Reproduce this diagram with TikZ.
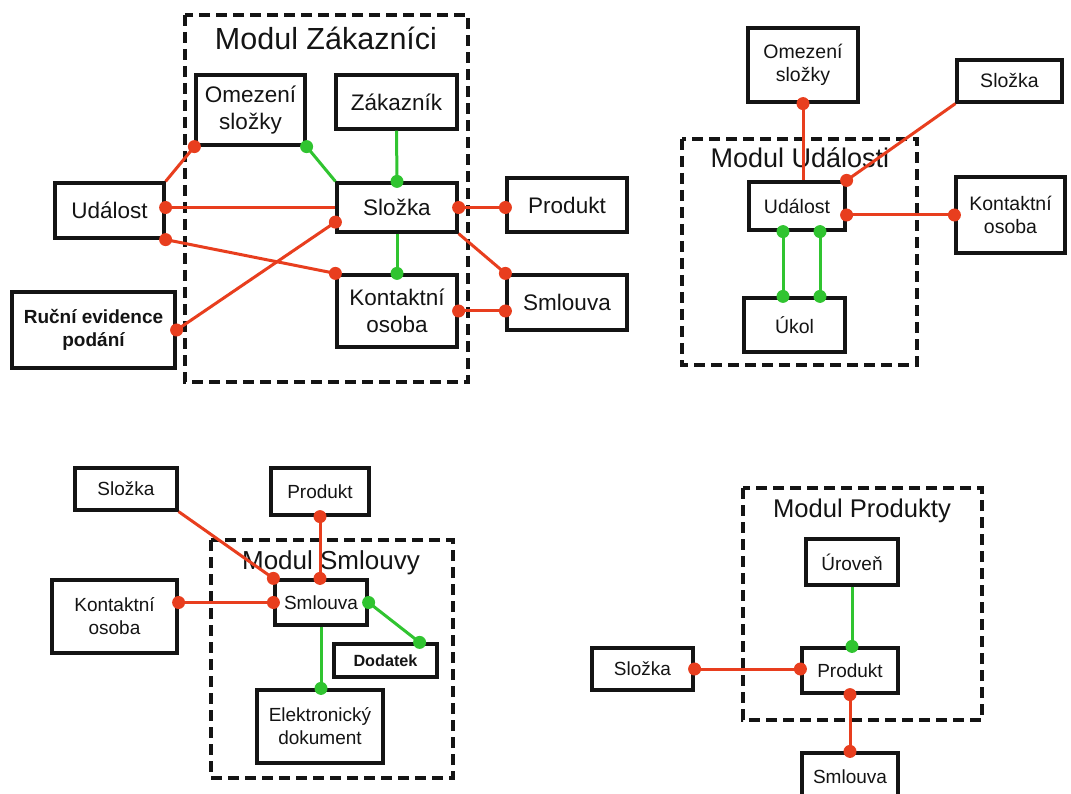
\documentclass[tikz,border=0pt]{standalone}
\usepackage{fontspec}
\setmainfont{Liberation Sans}
\usetikzlibrary{calc}
\definecolor{relred}{RGB}{232,62,30}
\definecolor{compgreen}{RGB}{48,196,48}
\definecolor{inkc}{RGB}{20,20,20}
\newcommand\reldot[1]{\fill[relred] (#1) circle (6.5pt);}
\newcommand\compdot[1]{\fill[compgreen] (#1) circle (6.5pt);}
\begin{document}
\begin{tikzpicture}[x=1pt,y=-1pt,
  box/.style={draw=inkc, line width=3.2pt, fill=white, inner sep=0pt, align=center, text=inkc},
  fA/.style={font=\fontsize{22.5}{27}\selectfont},
  fB/.style={font=\fontsize{19.5}{23.5}\selectfont},
  fC/.style={font=\fontsize{19}{23}\selectfont},
  modul/.style={draw=inkc, line width=3.2pt, dash pattern=on 11pt off 6pt},
  title/.style={anchor=base, text=inkc},
  rel/.style={draw=relred, line width=3pt},
  comp/.style={draw=compgreen, line width=3pt}]
\fill[white] (0,0) rectangle (1071,794);
\useasboundingbox (0,0) rectangle (1071,794);

% ---------- Modul Zakaznici ----------
\draw[modul] (185,15) rectangle (468,382);
\node[title, font=\fontsize{30.5}{36}\selectfont] (tZ) at (326,50) {Modul Zákazníci};
\node[box, fA, minimum width=109pt, minimum height=70pt] (omz) at (250.5,110) {Omezení\\složky};
\node[box, fA, minimum width=121pt, minimum height=54pt] (zak) at (396.5,102) {Zákazník};
\node[box, fA, minimum width=120pt, minimum height=49pt] (slz) at (397,207.5) {Složka};
\node[box, fA, minimum width=120pt, minimum height=72pt] (kon) at (397,311) {Kontaktní\\osoba};
\node[box, fA, minimum width=109pt, minimum height=55pt] (udl) at (109.5,210.5) {Událost};
\node[box, font=\bfseries\fontsize{19}{23}\selectfont, minimum width=163pt, minimum height=76pt] (rue) at (93.5,330) {Ruční evidence\\podání};
\node[box, fA, minimum width=120pt, minimum height=54pt] (prd) at (567,205) {Produkt};
\node[box, fA, minimum width=120pt, minimum height=55pt] (sml) at (567,302.5) {Smlouva};

\coordinate (slzR) at ($(slz.south west)!0.22!(slz.north west)$);
\draw[rel] (udl.north east) -- (omz.south west);
\draw[comp] (omz.south east) -- (slz.north west);
\draw[comp] (zak.south) -- (slz.north);
\draw[rel] (udl.east |- slz.west) -- (slz.west);
\draw[rel] (udl.south east) -- (kon.north west);
\draw[rel] (rue.east) -- (slzR);
\draw[comp] (slz.south) -- (kon.north);
\draw[rel] (slz.east) -- (prd.west |- slz.east);
\draw[rel] (slz.south east) -- (sml.north west);
\draw[rel] (kon.east) -- (sml.west |- kon.east);
\reldot{omz.south west}
\compdot{omz.south east}
\compdot{slz.north}
\reldot{udl.east |- slz.west}
\reldot{udl.south east}
\reldot{kon.north west}
\reldot{rue.east}
\reldot{slzR}
\compdot{kon.north}
\reldot{slz.east}
\reldot{prd.west |- slz.east}
\reldot{sml.north west}
\reldot{kon.east}
\reldot{sml.west |- kon.east}

% ---------- Modul Udalosti ----------
\draw[modul] (682,139) rectangle (917,365);
\node[title, font=\fontsize{27}{32}\selectfont] (tU) at (800,168) {Modul Události};
\node[box, fB, minimum width=110pt, minimum height=74pt] (omz2) at (803,65) {Omezení\\složky};
\node[box, fB, minimum width=105pt, minimum height=42pt] (slz2) at (1009.5,81) {Složka};
\node[box, fB, minimum width=96pt, minimum height=48pt] (udl2) at (797,206) {Událost};
\node[box, fB, minimum width=109pt, minimum height=76pt] (kon2) at (1010.5,215) {Kontaktní\\osoba};
\node[box, fB, minimum width=101pt, minimum height=54pt] (ukl) at (794.5,325) {Úkol};

\coordinate (uA) at ($(udl2.south)+(-14,0)$);
\coordinate (uB) at ($(udl2.south)+(23,0)$);
\draw[rel] (omz2.south) -- (omz2.south |- udl2.north);
\draw[rel] (slz2.south west) -- (udl2.north east);
\draw[rel] (udl2.east |- kon2.west) -- (kon2.west);
\draw[comp] (uA) -- (uA |- ukl.north);
\draw[comp] (uB) -- (uB |- ukl.north);
\reldot{omz2.south}
\reldot{udl2.north east}
\reldot{udl2.east |- kon2.west}
\reldot{kon2.west}
\compdot{uA}
\compdot{uB}
\compdot{uA |- ukl.north}
\compdot{uB |- ukl.north}

% ---------- Modul Smlouvy ----------
\draw[modul] (211,540) rectangle (453,778);
\node[title, font=\fontsize{26}{31}\selectfont] (tS) at (331,569) {Modul Smlouvy};
\node[box, fC, minimum width=102pt, minimum height=42pt] (slz3) at (126,489) {Složka};
\node[box, fC, minimum width=98pt, minimum height=47pt] (prd3) at (320,491.5) {Produkt};
\node[box, fC, minimum width=125pt, minimum height=73pt] (kon3) at (114.5,616.5) {Kontaktní\\osoba};
\node[box, fC, minimum width=92pt, minimum height=45pt] (sml3) at (321,602.5) {Smlouva};
\node[box, font=\bfseries\fontsize{16.2}{19}\selectfont, minimum width=103pt, minimum height=33pt] (ddt) at (385.5,660.5) {Dodatek};
\node[box, fC, minimum width=126pt, minimum height=73pt] (elk) at (320,726.5) {Elektronický\\dokument};

\coordinate (ddtT) at ($(ddt.north east)+(-19,0)$);
\draw[rel] (slz3.south east) -- (sml3.north west);
\draw[rel] (prd3.south) -- (prd3.south |- sml3.north);
\draw[rel] (kon3.east |- sml3.west) -- (sml3.west);
\draw[comp] (sml3.east) -- (ddtT);
\draw[comp] (sml3.south) -- (sml3.south |- elk.north);
\reldot{sml3.north west}
\reldot{prd3.south}
\reldot{prd3.south |- sml3.north}
\reldot{kon3.east |- sml3.west}
\reldot{sml3.west}
\compdot{sml3.east}
\compdot{ddtT}
\compdot{sml3.south |- elk.north}

% ---------- Modul Produkty ----------
\draw[modul] (743,488) rectangle (982,720);
\node[title, font=\fontsize{25.6}{31}\selectfont] (tP) at (862,517) {Modul Produkty};
\node[box, fC, minimum width=92pt, minimum height=46pt] (urv) at (852,562) {Úroveň};
\node[box, fC, minimum width=96pt, minimum height=45pt] (prd4) at (850,670.5) {Produkt};
\node[box, fC, minimum width=101pt, minimum height=42pt] (slz4) at (642.5,669) {Složka};
\node[box, fC, minimum width=96pt, minimum height=48pt] (sml4) at (850,777) {Smlouva};

\draw[comp] (urv.south) -- (urv.south |- prd4.north);
\draw[rel] (slz4.east) -- (prd4.west |- slz4.east);
\draw[rel] (prd4.south) -- (prd4.south |- sml4.north);
\compdot{urv.south |- prd4.north}
\reldot{slz4.east}
\reldot{prd4.west |- slz4.east}
\reldot{prd4.south}
\reldot{prd4.south |- sml4.north}
\end{tikzpicture}
\end{document}
